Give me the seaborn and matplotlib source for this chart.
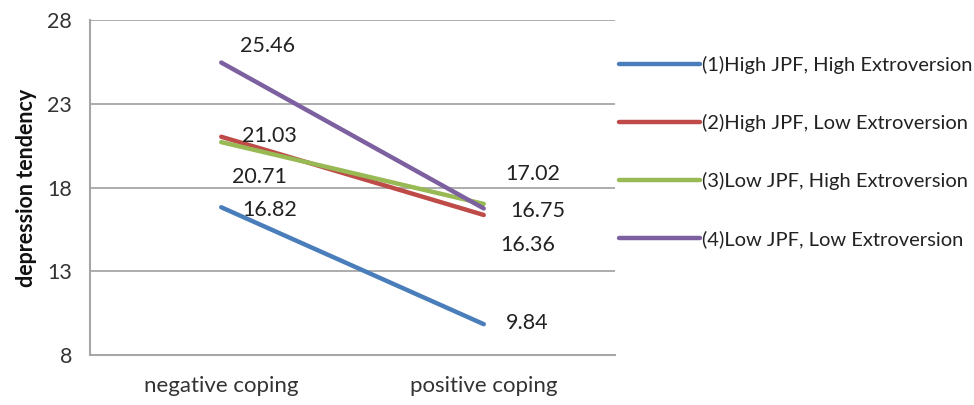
import pandas as pd
import numpy as np
import matplotlib.pyplot as plt
import seaborn as sns

# Data
categories = ["negative coping", "positive coping"]
groups = ["(1)High JPF, High Extroversion",
          "(2)High JPF, Low Extroversion",
          "(3)Low JPF, High Extroversion",
          "(4)Low JPF, Low Extroversion"]
g1 = [16.82, 9.84]
g2 = [21.03, 16.36]
g3 = [20.71, 17.02]
g4 = [25.46, 16.75]
yticks = [8, 13, 18, 23, 28]

colors = ["#4A7EBB", "#BE4B48", "#98B954", "#7D60A0"]

rows = []
for name, vals in zip(groups, [g1, g2, g3, g4]):
    for cat, v in zip(categories, vals):
        rows.append({"coping": cat, "score": v, "group": name})
df = pd.DataFrame(rows)

sns.set_style("white")
plt.rcParams['font.family'] = ['Lato', 'DejaVu Sans']
plt.rcParams['text.color'] = '#222222'

fig = plt.figure(figsize=(9.74, 4.05), dpi=100)
ax = fig.add_axes([90/974, 50/405, 525/974, 335/405])

sns.lineplot(data=df, x="coping", y="score", hue="group", palette=colors,
             linewidth=3.2, sort=False, ax=ax)

ax.set_xlim(-0.5, 1.5)
ax.set_ylim(8, 28)
ax.set_yticks(yticks)
ax.set_yticklabels([str(t) for t in yticks], fontsize=15.5, color='#333333')
ax.set_xticks([0, 1])
ax.set_xticklabels(categories, fontsize=16, color='#333333')
ax.tick_params(axis='y', length=0, pad=13)
ax.tick_params(axis='x', length=0, pad=15)
ax.set_xlabel("")
ax.set_ylabel("depression tendency", fontsize=15.5, fontweight='bold',
              color='#111111', labelpad=7)

ax.yaxis.grid(True, color='#a6a6a6', linewidth=1.3)
ax.set_axisbelow(True)
for side in ['top', 'right']:
    ax.spines[side].set_visible(False)
for side in ['left', 'bottom']:
    ax.spines[side].set_color('#a6a6a6')
    ax.spines[side].set_linewidth(1.5)

# data labels (offsets in pixels)
offsets = {
    0: [(48, -3), (43, 1)],
    1: [(48, 1), (44, -30)],
    2: [(38, -35), (49, 30)],
    3: [(46, 17), (54, -3)],
}
for i, vals in enumerate([g1, g2, g3, g4]):
    for j, v in enumerate(vals):
        ax.annotate(f"{v:.2f}", xy=(j, v), xytext=offsets[i][j],
                    textcoords='offset pixels', ha='center', va='center',
                    fontsize=15.5, color='#222222')

handles, labels = ax.get_legend_handles_labels()
ax.get_legend().remove()
fig.legend(handles, labels, loc='upper left', bbox_to_anchor=(619/974, 1 - 56/405),
           frameon=False, fontsize=14.5, handlelength=4.0, handletextpad=0.1,
           labelspacing=1.98, borderpad=0, borderaxespad=0)

fig.savefig("out.png", dpi=100)
